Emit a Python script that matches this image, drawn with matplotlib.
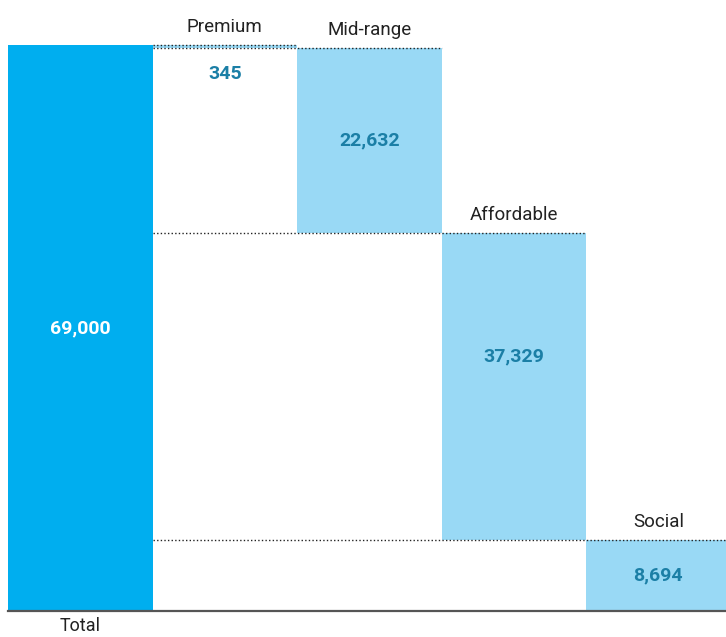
import matplotlib
matplotlib.use("Agg")
import matplotlib.pyplot as plt
import numpy as np

categories = ["Total", "Premium", "Mid-range", "Affordable", "Social"]
values = [69000, 345, 22632, 37329, 8694]
value_labels = ["69,000", "345", "22,632", "37,329", "8,694"]

total_color = "#00AEEF"
part_color = "#99D9F5"
value_color = "#1B7FA6"
text_color = "#222222"

plt.rcParams["font.family"] = ["Roboto", "DejaVu Sans"]

W, H = 726, 637
fig = plt.figure(figsize=(W / 100, H / 100), dpi=100)
bar_px = 144.5
left_px, bottom_px, top_px = 8, 611, 45
ax = fig.add_axes([left_px / W, (H - bottom_px) / H,
                   5 * bar_px / W, (bottom_px - top_px) / H])

x = np.arange(len(categories))
total = values[0]
bottoms = [0]
level = total
for v in values[1:]:
    level -= v
    bottoms.append(level)

colors = [total_color] + [part_color] * (len(values) - 1)
ax.bar(x, values, bottom=bottoms, width=1.0, color=colors, linewidth=0, zorder=2)

ax.set_xlim(-0.5, len(categories) - 0.5)
ax.set_ylim(0, total)
ax.axis("off")

# dotted connectors from the total bar to the right edge of each step
for i in range(1, len(values)):
    top = bottoms[i] + values[i]
    ax.plot([0.5, i + 0.5], [top, top], color="#222222", linestyle=(0, (1, 1.6)),
            linewidth=1.0, zorder=3, clip_on=False)

# baseline
ax.plot([-0.5, len(categories) - 0.5], [0, 0], color="#555555",
        linewidth=1.6, zorder=4, clip_on=False)

# value labels
label_frac = [0.5, None, 0.5, 0.6, 0.5]
value_kw = dict(ha="center", va="center", fontsize=14, fontweight="bold", zorder=5)
for i, (v, lab) in enumerate(zip(values, value_labels)):
    if i == 0:
        ax.text(i, bottoms[i] + v * label_frac[i], lab, color="white", **value_kw)
    elif label_frac[i] is None:
        ax.annotate(lab, (i, bottoms[i]), xytext=(0, -19), textcoords="offset points",
                    color=value_color, **value_kw)
    else:
        ax.text(i, bottoms[i] + v * label_frac[i], lab, color=value_color, **value_kw)

# category labels
for i, cat in enumerate(categories):
    if i == 0:
        ax.annotate(cat, (i, 0), xytext=(0, -4), textcoords="offset points",
                    ha="center", va="top", color=text_color, fontsize=13,
                    annotation_clip=False)
    else:
        top = bottoms[i] + values[i]
        ax.annotate(cat, (i, top), xytext=(0, 13), textcoords="offset points",
                    ha="center", va="center", color=text_color, fontsize=13.5,
                    annotation_clip=False)

fig.savefig("out.png", dpi=100)
